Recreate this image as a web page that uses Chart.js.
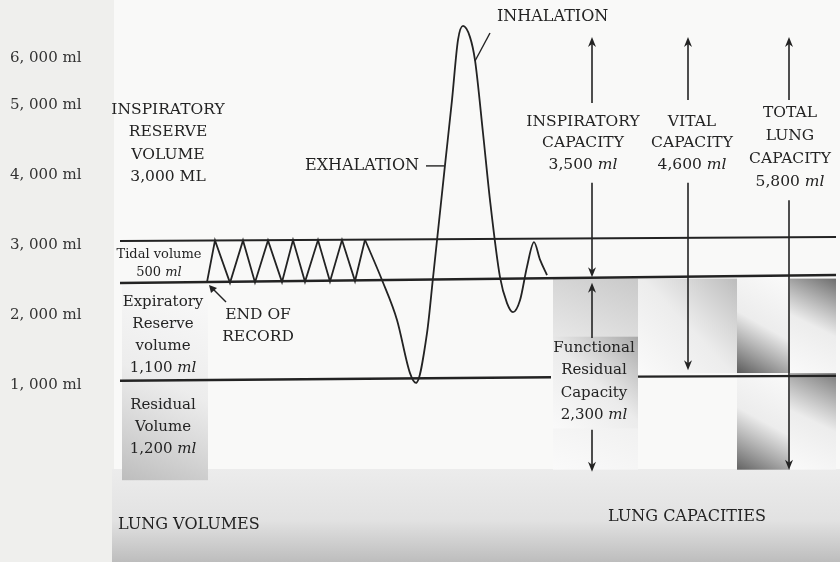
<!DOCTYPE html>
<html>
<head>
<meta charset="utf-8">
<title>Lung volumes and capacities</title>
<script src="https://cdn.jsdelivr.net/npm/chart.js@4.4.1/dist/chart.umd.min.js"></script>
<style>
  html, body { margin: 0; padding: 0; background: #efefed; }
  #lungChart { display: block; }
</style>
</head>
<body>
<canvas id="lungChart" width="840" height="562"></canvas>
<script>
// y axis (ml) - the top label sits lower than a linear scale would put it, as in the drawing
const tickValues = [1000, 2000, 3000, 4000, 5000, 5670];
const tickLabels = ['1, 000 ml', '2, 000 ml', '3, 000 ml', '4, 000 ml', '5, 000 ml', '6, 000 ml'];

// quiet breathing (tidal volume), x = recording time units
const tidalT  = [207, 215, 230, 243, 255, 268, 282, 293, 305, 318, 330, 342, 355, 365];
const tidalMl = [2470, 3065, 2460, 3065, 2465, 3065, 2470, 3070, 2475, 3070, 2480, 3070, 2485, 3075];

// max exhalation, max inhalation, then back to quiet breathing
const deepT  = [365, 382, 397, 410, 416, 427, 433, 445, 452, 458, 463, 470, 475, 483, 490, 500, 507, 513, 520, 527, 534, 540, 547];
const deepMl = [3075, 2500, 1930, 1170, 1030, 1740, 2530, 4140, 5070, 5930, 6130, 5970, 5640, 4600, 3640, 2540, 2170, 2040, 2210, 2690, 3040, 2790, 2570];

// reference levels
const topLineT = [120, 836],  topLineMl = [3057, 3114];
const midLineT = [120, 836],  midLineMl = [2457, 2571];
const lowLineT = [120, 551, 594, 638, 836], lowLineMl = [1060, 1110, null, 1120, 1130];

// capacity arrows (tail -> head)
const arrowT      = [592, 592, 688, 688, 789, 789, 592, 592];
const arrowFromMl = [5030, 3890, 5070, 3890, 5070, 3640, 1670, 360];
const arrowToMl   = [5970, 2540, 5970, 1210, 5970, -210, 2460, -240];

const FONT = 'DejaVu Serif';
const INK = '#232323';

const pts = (xs, ys) => xs.map((x, i) => ({ x: x, y: ys[i] }));

const labels = [
  { lines: ['INSPIRATORY', 'RESERVE', 'VOLUME', '3,000 ML'], t: 168, ml: 4930, lh: 22.5, size: 15.5 },
  { lines: ['INSPIRATORY', 'CAPACITY', '3,500 ml'], t: 583, ml: 4760, lh: 21.5, size: 15.5 },
  { lines: ['VITAL', 'CAPACITY', '4,600 ml'], t: 692, ml: 4760, lh: 21.5, size: 15.5 },
  { lines: ['TOTAL', 'LUNG', 'CAPACITY', '5,800 ml'], t: 790, ml: 4890, lh: 23, size: 15.5 },
  { lines: ['Tidal volume', '500 ml'], t: 159, ml: 2860, lh: 18, size: 13 },
  { lines: ['Expiratory', 'Reserve', 'volume', '1,100 ml'], t: 163, ml: 2190, lh: 22, size: 15 },
  { lines: ['END OF', 'RECORD'], t: 258, ml: 2000, lh: 22, size: 15.5 },
  { lines: ['Residual', 'Volume', '1,200 ml'], t: 163, ml: 715, lh: 22, size: 15 },
  { lines: ['Functional', 'Residual', 'Capacity', '2,300 ml'], t: 594, ml: 1530, lh: 22.5, size: 15 },
  { lines: ['LUNG VOLUMES'], t: 118, ml: -1000, size: 16, align: 'left' },
  { lines: ['LUNG CAPACITIES'], t: 687, ml: -886, size: 16 },
  { lines: ['EXHALATION'], t: 419, ml: 4130, size: 16, align: 'right' },
  { lines: ['INHALATION'], t: 497, ml: 6257, size: 16, align: 'left' }
];

// pointer strokes [t1, ml1, t2, ml2]
const pointers = [
  [426, 4130, 444, 4130],   // EXHALATION
  [490, 6029, 475, 5629],   // INHALATION
];

// scanned gray shading behind the figure [t1, ml1, t2, ml2, dark corner]
const shades = [
  [122, 2430, 208, -360, 'bl', '#bdbdbd'],
  [553, 2520, 638, -210, 'tr', '#c9c9c9'],
  [553, 1690, 638, 380, 'tr', '#a9a9a9'],
  [638, 2520, 737, 1170, 'tr', '#bcbcbc'],
  [737, 2520, 790, 1170, 'bl', '#5a5a5a'],
  [790, 2520, 836, 1170, 'tr', '#6d6d6d'],
  [737, 1170, 790, -210, 'bl', '#626262'],
  [790, 1170, 836, -210, 'tr', '#7a7a7a'],
];

function drawText(ctx, str, x, y, size, align) {
  let main = str, ital = '';
  if (/ ml$/.test(str) && !/^\d, /.test(str)) { main = str.slice(0, -2); ital = 'ml'; }
  ctx.font = size + 'px "' + FONT + '"';
  const w1 = ctx.measureText(main).width;
  ctx.font = 'italic ' + size + 'px "' + FONT + '"';
  const w2 = ital ? ctx.measureText(ital).width : 0;
  let x0 = x - (w1 + w2) / 2;
  if (align === 'left') x0 = x;
  if (align === 'right') x0 = x - w1 - w2;
  ctx.textAlign = 'left';
  ctx.textBaseline = 'middle';
  ctx.font = size + 'px "' + FONT + '"';
  ctx.fillText(main, x0, y);
  if (ital) {
    ctx.font = 'italic ' + size + 'px "' + FONT + '"';
    ctx.fillText(ital, x0 + w1, y);
  }
}

const backdrop = {
  id: 'backdrop',
  beforeDatasetsDraw(chart) {
    const ctx = chart.ctx, sx = chart.scales.x, sy = chart.scales.y;
    ctx.save();
    // paper of the figure
    ctx.fillStyle = '#f9f9f8';
    ctx.fillRect(sx.getPixelForValue(114), 0, chart.width, sy.getPixelForValue(-200));
    // bottom gray band
    const bTop = sy.getPixelForValue(-200);
    const g = ctx.createLinearGradient(0, bTop, 0, chart.height);
    g.addColorStop(0, '#ececec');
    g.addColorStop(0.55, '#e2e2e2');
    g.addColorStop(1, '#bdbdbd');
    ctx.fillStyle = g;
    ctx.fillRect(sx.getPixelForValue(112), bTop, chart.width, chart.height - bTop);
    shades.forEach(s => {
      const x1 = sx.getPixelForValue(s[0]), y1 = sy.getPixelForValue(s[1]);
      const x2 = sx.getPixelForValue(s[2]), y2 = sy.getPixelForValue(s[3]);
      const gr = s[4] === 'bl'
        ? ctx.createLinearGradient(x2, y1, x1, y2)
        : ctx.createLinearGradient(x1, y2, x2, y1);
      gr.addColorStop(0, 'rgba(250,250,250,0.9)');
      gr.addColorStop(0.5, 'rgba(235,235,235,0.9)');
      gr.addColorStop(1, s[5]);
      ctx.fillStyle = gr;
      ctx.fillRect(x1, y1, x2 - x1, y2 - y1);
    });
    ctx.restore();
  },
  afterDatasetsDraw(chart) {
    const ctx = chart.ctx, sx = chart.scales.x, sy = chart.scales.y;
    ctx.save();
    ctx.strokeStyle = INK;
    ctx.fillStyle = INK;
    ctx.lineWidth = 1.6;
    // arrows
    arrowT.forEach((t, i) => {
      const x = sx.getPixelForValue(t);
      const y1 = sy.getPixelForValue(arrowFromMl[i]);
      const y2 = sy.getPixelForValue(arrowToMl[i]);
      const dir = y2 < y1 ? -1 : 1;
      ctx.beginPath();
      ctx.moveTo(x, y1);
      ctx.lineTo(x, y2 - dir * 6);
      ctx.stroke();
      ctx.beginPath();
      ctx.moveTo(x, y2);
      ctx.lineTo(x - 4, y2 - dir * 10);
      ctx.lineTo(x, y2 - dir * 7);
      ctx.lineTo(x + 4, y2 - dir * 10);
      ctx.closePath();
      ctx.fill();
    });
    // pointers
    ctx.lineWidth = 1.4;
    pointers.forEach(p => {
      ctx.beginPath();
      ctx.moveTo(sx.getPixelForValue(p[0]), sy.getPixelForValue(p[1]));
      ctx.lineTo(sx.getPixelForValue(p[2]), sy.getPixelForValue(p[3]));
      ctx.stroke();
    });
    // END OF RECORD arrow
    const ex1 = sx.getPixelForValue(226), ey1 = sy.getPixelForValue(2186);
    const ex2 = sx.getPixelForValue(209), ey2 = sy.getPixelForValue(2429);
    ctx.beginPath(); ctx.moveTo(ex1, ey1); ctx.lineTo(ex2 + 2, ey2 + 2); ctx.stroke();
    ctx.beginPath();
    ctx.moveTo(ex2, ey2);
    ctx.lineTo(ex2 + 2, ey2 + 8);
    ctx.lineTo(ex2 + 8, ey2 + 3);
    ctx.closePath(); ctx.fill();
    // labels
    labels.forEach(l => {
      const x = sx.getPixelForValue(l.t);
      const y0 = sy.getPixelForValue(l.ml);
      l.lines.forEach((s, k) => drawText(ctx, s, x, y0 + k * (l.lh || 0), l.size, l.align));
    });
    ctx.restore();
  }
};

const lineStyle = { showLine: true, pointRadius: 0, borderColor: INK, fill: false };

new Chart(document.getElementById('lungChart'), {
  type: 'scatter',
  data: {
    datasets: [
      Object.assign({ label: 'top', data: pts(topLineT, topLineMl), borderWidth: 2.2 }, lineStyle),
      Object.assign({ label: 'mid', data: pts(midLineT, midLineMl), borderWidth: 2.4 }, lineStyle),
      Object.assign({ label: 'low', data: pts(lowLineT, lowLineMl), borderWidth: 2.4, spanGaps: false }, lineStyle),
      Object.assign({ label: 'tidal', data: pts(tidalT, tidalMl), borderWidth: 1.8, tension: 0 }, lineStyle),
      Object.assign({ label: 'deep', data: pts(deepT, deepMl), borderWidth: 1.8, cubicInterpolationMode: 'monotone' }, lineStyle)
    ]
  },
  options: {
    responsive: false,
    animation: false,
    layout: { padding: { left: 10, right: 0, top: 0, bottom: 2 } },
    plugins: { legend: { display: false }, tooltip: { enabled: false } },
    scales: {
      x: { type: 'linear', min: 110, max: 840, display: false },
      y: {
        type: 'linear', min: -1500, max: 6500,
        afterBuildTicks: axis => { axis.ticks = tickValues.map(v => ({ value: v })); },
        afterFit: axis => { axis.width = 100; axis.paddingTop = 0; axis.paddingBottom = 0; },
        grid: { display: false },
        border: { display: false },
        ticks: {
          autoSkip: false,
          crossAlign: 'far',
          color: '#333',
          font: { family: FONT, size: 15 },
          callback: (v, i) => tickLabels[i]
        }
      }
    }
  },
  plugins: [backdrop]
});
</script>
</body>
</html>
